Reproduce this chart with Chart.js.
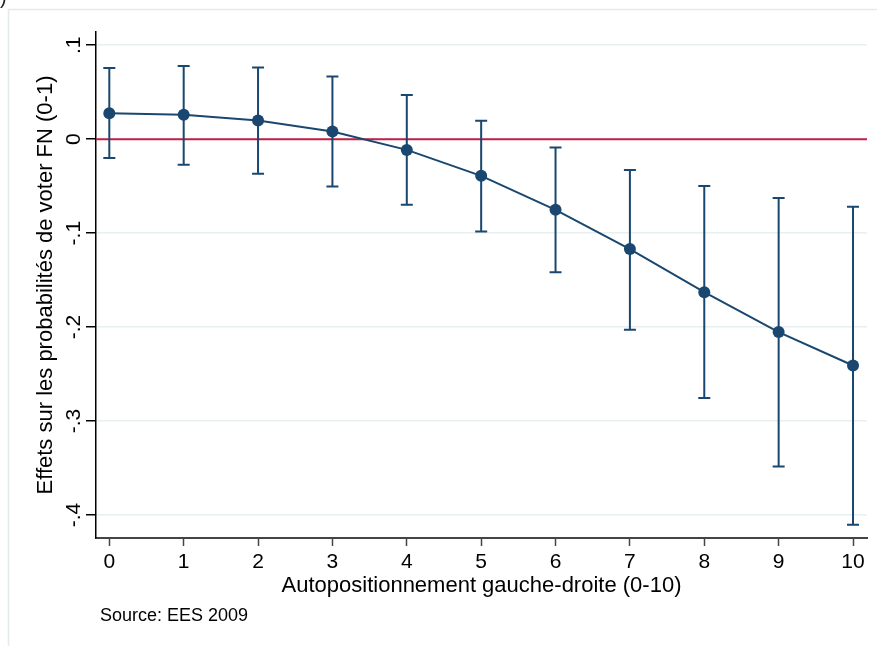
<!DOCTYPE html>
<html>
<head>
<meta charset="utf-8">
<script src="https://cdn.jsdelivr.net/npm/chart.js@4.4.1/dist/chart.umd.min.js"></script>
<style>
  html, body { margin: 0; padding: 0; background: #fff; }
  #wrap { width: 877px; height: 646px; }
</style>
</head>
<body>
<div id="wrap"><canvas id="chart" width="877" height="646"></canvas></div>
<script>
// values
const positions = [0, 1, 2, 3, 4, 5, 6, 7, 8, 9, 10];
const effects = [0.0277, 0.0259, 0.0198, 0.0081, -0.0114, -0.039, -0.0752, -0.117, -0.1628, -0.2053, -0.2409];
const ciHigh = [0.0758, 0.078, 0.0762, 0.0666, 0.0471, 0.0195, -0.0089, -0.0327, -0.0497, -0.0625, -0.072];
const ciLow = [-0.0199, -0.0273, -0.0369, -0.0504, -0.0699, -0.0983, -0.1415, -0.2029, -0.2755, -0.3483, -0.4103];
const yTickValues = [0.1, 0, -0.1, -0.2, -0.3, -0.4];
const yTickLabels = ['.1', '0', '-.1', '-.2', '-.3', '-.4'];
const xTickValues = positions;

const NAVY = '#1a476f';
const FONT = '"Liberation Sans", Arial, Helvetica, sans-serif';

const stataExtras = {
  id: 'stataExtras',
  beforeDraw(chart) {
    const ctx = chart.ctx;
    ctx.save();
    // outer frame of the graph region
    ctx.strokeStyle = '#e3eaec';
    ctx.lineWidth = 1.5;
    ctx.strokeRect(8.5, 9.5, 1000, 1000);
    ctx.fillStyle = '#222';
    ctx.font = '20px ' + FONT;
    ctx.textBaseline = 'alphabetic';
    ctx.fillText(')', 0, 4);
    ctx.restore();
  },
  beforeDatasetsDraw(chart) {
    const { ctx, chartArea, scales: { x, y } } = chart;
    ctx.save();
    // reference line at zero
    const y0 = y.getPixelForValue(0);
    ctx.strokeStyle = '#c41e45';
    ctx.lineWidth = 2;
    ctx.beginPath();
    ctx.moveTo(chartArea.left, y0);
    ctx.lineTo(chartArea.right, y0);
    ctx.stroke();

    // confidence intervals
    ctx.strokeStyle = NAVY;
    ctx.lineWidth = 2;
    positions.forEach((p, i) => {
      const px = x.getPixelForValue(p);
      const top = y.getPixelForValue(ciHigh[i]);
      const bot = y.getPixelForValue(ciLow[i]);
      ctx.beginPath();
      ctx.moveTo(px, top);
      ctx.lineTo(px, bot);
      ctx.moveTo(px - 6, top);
      ctx.lineTo(px + 6, top);
      ctx.moveTo(px - 6, bot);
      ctx.lineTo(px + 6, bot);
      ctx.stroke();
    });
    ctx.restore();
  },
  afterDraw(chart) {
    const { ctx, scales: { y } } = chart;
    ctx.save();
    // rotated y tick labels
    ctx.fillStyle = '#000';
    ctx.font = '21px ' + FONT;
    ctx.textAlign = 'center';
    ctx.textBaseline = 'alphabetic';
    yTickValues.forEach((v, i) => {
      ctx.save();
      ctx.translate(80, y.getPixelForValue(v));
      ctx.rotate(-Math.PI / 2);
      ctx.fillText(yTickLabels[i], 0, 0);
      ctx.restore();
    });
    // note
    ctx.textAlign = 'left';
    ctx.font = '18px ' + FONT;
    ctx.fillText('Source: EES 2009', 100, 621);
    ctx.restore();
  }
};

new Chart(document.getElementById('chart'), {
  type: 'line',
  data: {
    datasets: [{
      data: positions.map((p, i) => ({ x: p, y: effects[i] })),
      borderColor: NAVY,
      borderWidth: 2,
      backgroundColor: NAVY,
      pointBackgroundColor: NAVY,
      pointBorderColor: NAVY,
      pointRadius: 6,
      pointBorderWidth: 0,
      tension: 0
    }]
  },
  options: {
    responsive: false,
    animation: false,
    devicePixelRatio: 1,
    layout: { padding: { left: 0, right: 10, top: 32, bottom: 0 } },
    plugins: {
      legend: { display: false },
      tooltip: { enabled: false }
    },
    scales: {
      x: {
        type: 'linear',
        min: -0.179,
        max: 10.188,
        afterBuildTicks: s => { s.ticks = xTickValues.map(v => ({ value: v })); },
        afterFit: s => { s.height = 108; },
        ticks: {
          font: { family: FONT, size: 21 },
          color: '#000',
          padding: 4,
          maxRotation: 0,
          autoSkip: false,
          callback: v => String(v)
        },
        grid: {
          drawOnChartArea: false,
          drawTicks: true,
          tickLength: 8,
          tickColor: '#444',
          tickWidth: 1.5
        },
        border: { display: true, color: '#444', width: 2 },
        title: {
          display: true,
          text: 'Autopositionnement gauche-droite (0-10)',
          font: { family: FONT, size: 22 },
          color: '#000',
          padding: { top: 0, bottom: 47 }
        }
      },
      y: {
        type: 'linear',
        min: -0.4245,
        max: 0.1141,
        afterBuildTicks: s => { s.ticks = yTickValues.map(v => ({ value: v })); },
        afterFit: s => { s.width = 96; },
        ticks: { display: false },
        grid: {
          color: '#e8eff1',
          lineWidth: 1.5,
          drawTicks: true,
          tickLength: 10,
          tickColor: '#000',
          tickWidth: 1.5
        },
        border: { display: true, color: '#000', width: 1.5 },
        title: {
          display: true,
          text: 'Effets sur les probabilités de voter FN (0-1)',
          font: { family: FONT, size: 22 },
          color: '#000',
          padding: { top: 33, bottom: 0 }
        }
      }
    }
  },
  plugins: [stataExtras]
});
</script>
</body>
</html>
